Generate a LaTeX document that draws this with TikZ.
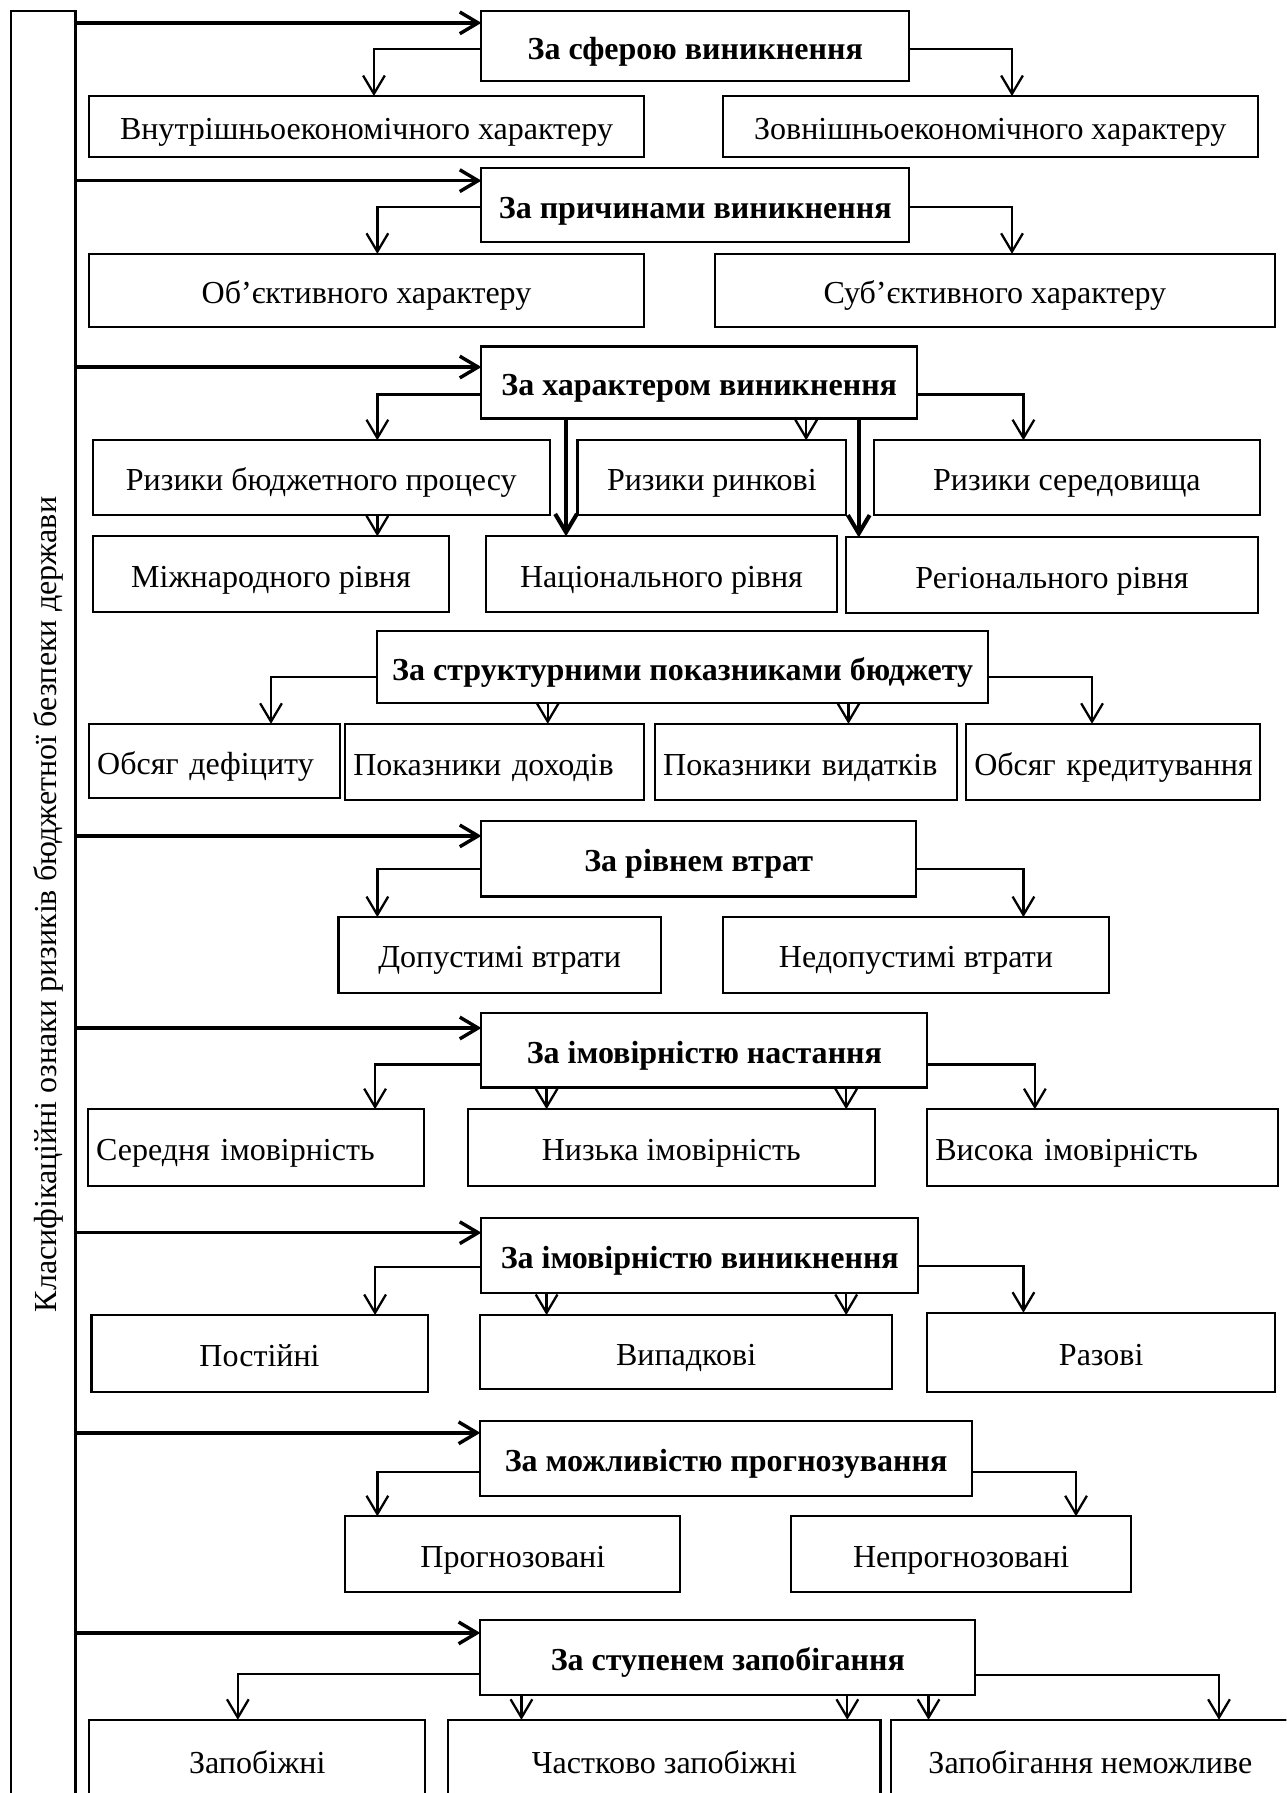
\documentclass[tikz,border=0pt]{standalone}
\usepackage{fontspec}
\setmainfont{Liberation Serif}
\usetikzlibrary{arrows.meta}

\newcommand{\boxfont}{\fontsize{14}{16}\selectfont}

% \bx[options]{name}{x1}{y1}{x2}{y2}{text}: a framed box given by its corners
\newcommand{\bx}[7][]{%
  \pgfmathsetmacro\bxw{(#5-#3)*0.5}%
  \pgfmathsetmacro\bxh{(#6-#4)*0.5}%
  \node[box, minimum width=\bxw pt, minimum height=\bxh pt, #1] (#2) at ({(#3+#5)/2},{(#4+#6)/2}) {#7};}

\tikzset{
  box/.style={draw, line width=0.9pt, inner sep=0pt, outer sep=0pt, font=\boxfont,
    align=center, text height=11.5pt, text depth=0pt},
  head/.style={font=\boxfont\bfseries},
  lft/.style={text width=\bxw pt, align=left, execute at begin node={\hspace*{3.5pt}}},
  tip/.style={-{Straight Barb[length=8pt,width=9.5pt]}},
  br/.style={tip, line width=1.0pt},
  sp/.style={tip, line width=1.5pt},
  thk/.style={tip, line width=1.8pt},
}

\begin{document}
\begin{tikzpicture}[x=0.5pt, y=-0.5pt]
\useasboundingbox (0,0) rectangle (1125,1568);
\clip (0,0) rectangle (1125,1568);

% vertical title box
\node[box, rotate=90, minimum width=781pt, minimum height=28pt] (lab) at (38,791)
  {Класифікаційні ознаки ризиків бюджетної безпеки держави};

% classification headers
\bx[head]{h1}{421}{10}{795}{71}{За сферою виникнення}
\bx[head]{h2}{421}{147}{795}{212}{За причинами виникнення}
\bx[head]{h3}{421}{303}{802}{366}{За характером виникнення}
\bx[head]{h4}{330}{552}{864}{615}{За структурними показниками бюджету}
\bx[head]{h5}{421}{718}{801}{784}{За рівнем втрат}
\bx[head]{h6}{421}{886}{811}{951}{За імовірністю настання}
\bx[head]{h7}{421}{1065}{803}{1131}{За імовірністю виникнення}
\bx[head]{h8}{420}{1243}{850}{1308}{За можливістю прогнозування}
\bx[head]{h9}{420}{1417}{853}{1482}{За ступенем запобігання}

% kinds of risk
\bx{c1a}{78}{84}{563}{137}{Внутрішньоекономічного характеру}
\bx{c1b}{632}{84}{1100}{137}{Зовнішньоекономічного характеру}
\bx{c2a}{78}{222}{563}{286}{Об’єктивного характеру}
\bx{c2b}{625}{222}{1115}{286}{Суб’єктивного характеру}
\bx{c3a}{81}{385}{481}{450}{Ризики бюджетного процесу}
\bx{c3b}{505}{385}{740}{450}{Ризики ринкові}
\bx{c3c}{764}{385}{1102}{450}{Ризики середовища}
\bx{c3d}{81}{469}{393}{535}{Міжнародного рівня}
\bx{c3e}{425}{469}{732}{535}{Національного рівня}
\bx{c3f}{740}{470}{1100}{536}{Регіонального рівня}
\bx[lft]{c4a}{78}{633}{297}{698}{Обсяг дефіциту}
\bx[lft]{c4b}{302}{633}{563}{700}{Показники доходів}
\bx[lft]{c4c}{573}{633}{837}{700}{Показники видатків}
\bx[lft]{c4d}{845}{633}{1102}{700}{Обсяг кредитування}
\bx{c5a}{296}{802}{578}{868}{Допустимі втрати}
\bx{c5b}{632}{802}{970}{868}{Недопустимі втрати}
\bx[lft]{c6a}{77}{970}{371}{1037}{Середня імовірність}
\bx{c6b}{409}{970}{765}{1037}{Низька імовірність}
\bx[lft]{c6c}{811}{970}{1118}{1037}{Висока імовірність}
\bx{c7a}{80}{1150}{374}{1217}{Постійні}
\bx{c7b}{420}{1150}{780}{1215}{Випадкові}
\bx{c7c}{811}{1148}{1115}{1217}{Разові}
\bx{c8a}{302}{1326}{595}{1392}{Прогнозовані}
\bx{c8b}{692}{1326}{989}{1392}{Непрогнозовані}
\bx{c9a}{78}{1504}{372}{1574}{Запобіжні}
\bx{c9b}{392}{1504}{770}{1574}{Частково запобіжні}
\bx{c9c}{779}{1504}{1128}{1574}{Запобігання неможливе}

% arrows from the title box to the headers
\draw[sp] (lab.south |- 0,20) -- (h1.west |- 0,20);
\draw[sp] (lab.south |- 0,158) -- (h2.west |- 0,158);
\draw[sp] (lab.south |- 0,321) -- (h3.west |- 0,321);
\draw[sp] (lab.south |- 0,731) -- (h5.west |- 0,731);
\draw[sp] (lab.south |- 0,899) -- (h6.west |- 0,899);
\draw[sp] (lab.south |- 0,1078) -- (h7.west |- 0,1078);
\draw[sp] (lab.south |- 0,1253) -- (h8.west |- 0,1253);
\draw[sp] (lab.south |- 0,1428) -- (h9.west |- 0,1428);

% header 1
\draw[br] (h1.west |- 0,43) -| (327,0 |- c1a.north);
\draw[br] (h1.east |- 0,43) -| (885,0 |- c1b.north);
% header 2
\draw[br] (h2.west |- 0,181) -| (330,0 |- c2a.north);
\draw[br] (h2.east |- 0,181) -| (885,0 |- c2b.north);
% header 3
\draw[br] (h3.west |- 0,345) -| (330,0 |- c3a.north);
\draw[br] (h3.south -| 705,0) -- (705,0 |- c3b.north);
\draw[thk] (h3.south -| 495,0) -- (495,0 |- c3e.north);
\draw[thk] (h3.south -| 751,0) -- (751,0 |- c3f.north);
\draw[br] (h3.east |- 0,345) -| (895,0 |- c3c.north);
\draw[br] (c3a.south -| 330,0) -- (330,0 |- c3d.north);
% header 4
\draw[br] (h4.west |- 0,592) -| (237,0 |- c4a.north);
\draw[br] (h4.south -| 479,0) -- (479,0 |- c4b.north);
\draw[br] (h4.south -| 742,0) -- (742,0 |- c4c.north);
\draw[br] (h4.east |- 0,592) -| (955,0 |- c4d.north);
% header 5
\draw[br] (h5.west |- 0,760) -| (330,0 |- c5a.north);
\draw[br] (h5.east |- 0,760) -| (895,0 |- c5b.north);
% header 6
\draw[br] (h6.west |- 0,931) -| (328,0 |- c6a.north);
\draw[br] (h6.south -| 478,0) -- (478,0 |- c6b.north);
\draw[br] (h6.south -| 740,0) -- (740,0 |- c6b.north);
\draw[br] (h6.east |- 0,931) -| (905,0 |- c6c.north);
% header 7
\draw[br] (h7.west |- 0,1108) -| (328,0 |- c7a.north);
\draw[br] (h7.south -| 478,0) -- (478,0 |- c7b.north);
\draw[br] (h7.south -| 740,0) -- (740,0 |- c7b.north);
\draw[br] (h7.east |- 0,1107) -| (895,0 |- c7c.north);
% header 8
\draw[br] (h8.west |- 0,1287) -| (330,0 |- c8a.north);
\draw[br] (h8.east |- 0,1287) -| (941,0 |- c8b.north);
% header 9
\draw[br] (h9.west |- 0,1464) -| (208,0 |- c9a.north);
\draw[br] (h9.south -| 456,0) -- (456,0 |- c9b.north);
\draw[br] (h9.south -| 741,0) -- (741,0 |- c9b.north);
\draw[br] (h9.south -| 812,0) -- (812,0 |- c9c.north);
\draw[br] (h9.east |- 0,1465) -| (1066,0 |- c9c.north);
\end{tikzpicture}
\end{document}
